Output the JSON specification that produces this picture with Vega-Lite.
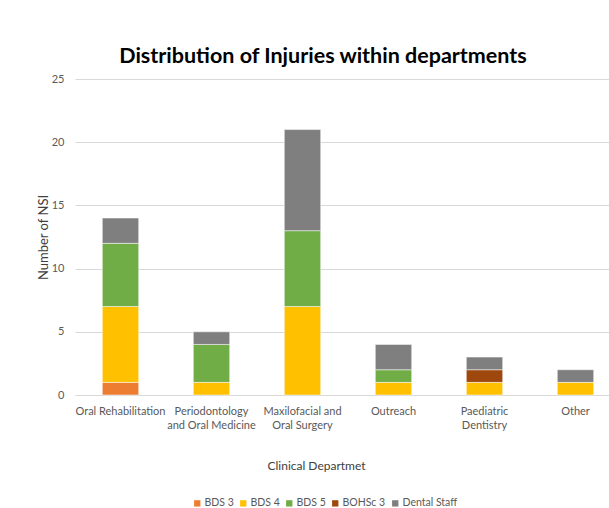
{
  "$schema": "https://vega.github.io/schema/vega-lite/v6.json",
  "autosize": "none",
  "padding": {"left": 75, "top": 79, "right": 0, "bottom": 113},
  "width": 546,
  "height": 316,
  "background": "white",
  "title": {
    "text": "Distribution of Injuries within departments",
    "font": "Lato",
    "fontSize": 21.5,
    "fontWeight": "bold",
    "color": "#000000",
    "anchor": "middle",
    "dx": -25,
    "offset": 6
  },
  "data": {
    "values": [
      {"dept": "Oral Rehabilitation", "group": "BDS 3", "count": 1},
      {"dept": "Oral Rehabilitation", "group": "BDS 4", "count": 6},
      {"dept": "Oral Rehabilitation", "group": "BDS 5", "count": 5},
      {"dept": "Oral Rehabilitation", "group": "Dental Staff", "count": 2},
      {"dept": "Periodontology and Oral Medicine", "group": "BDS 4", "count": 1},
      {"dept": "Periodontology and Oral Medicine", "group": "BDS 5", "count": 3},
      {"dept": "Periodontology and Oral Medicine", "group": "Dental Staff", "count": 1},
      {"dept": "Maxilofacial and Oral Surgery", "group": "BDS 4", "count": 7},
      {"dept": "Maxilofacial and Oral Surgery", "group": "BDS 5", "count": 6},
      {"dept": "Maxilofacial and Oral Surgery", "group": "Dental Staff", "count": 8},
      {"dept": "Outreach", "group": "BDS 4", "count": 1},
      {"dept": "Outreach", "group": "BDS 5", "count": 1},
      {"dept": "Outreach", "group": "Dental Staff", "count": 2},
      {"dept": "Paediatric Dentistry", "group": "BDS 4", "count": 1},
      {"dept": "Paediatric Dentistry", "group": "BOHSc 3", "count": 1},
      {"dept": "Paediatric Dentistry", "group": "Dental Staff", "count": 1},
      {"dept": "Other", "group": "BDS 4", "count": 1},
      {"dept": "Other", "group": "Dental Staff", "count": 1}
    ]
  },
  "mark": {"type": "bar", "stroke": "#ffffff", "strokeWidth": 0.5},
  "encoding": {
    "x": {
      "field": "dept",
      "type": "nominal",
      "sort": null,
      "scale": {"paddingInner": 0.6, "paddingOuter": 0.3},
      "axis": {
        "title": "Clinical Departmet",
        "titleFont": "Lato",
        "titleFontSize": 12,
        "titleFontWeight": "normal",
        "titleColor": "#404040",
        "titleX": 241,
        "titleY": 70,
        "titleBaseline": "middle",
        "titleAlign": "center",
        "labelAngle": 0,
        "labelFont": "Lato",
        "labelFontSize": 11,
        "labelColor": "#595959",
        "labelPadding": 10,
        "labelLineHeight": 14,
        "labelExpr": "datum.label == 'Periodontology and Oral Medicine' ? ['Periodontology', 'and Oral Medicine'] : datum.label == 'Maxilofacial and Oral Surgery' ? ['Maxilofacial and', 'Oral Surgery'] : datum.label == 'Paediatric Dentistry' ? ['Paediatric', 'Dentistry'] : datum.label",
        "ticks": false,
        "domain": true,
        "domainColor": "#d9d9d9",
        "domainWidth": 1
      }
    },
    "y": {
      "field": "count",
      "type": "quantitative",
      "stack": "zero",
      "scale": {"domain": [0, 25], "nice": false},
      "axis": {
        "title": "Number of NSI",
        "titleFont": "Lato",
        "titleFontSize": 13,
        "titleFontWeight": "normal",
        "titleColor": "#404040",
        "titleX": -32,
        "titleY": 158,
        "titleAngle": -90,
        "titleAlign": "center",
        "titleBaseline": "middle",
        "values": [0, 5, 10, 15, 20, 25],
        "labelFont": "Lato",
        "labelFontSize": 11,
        "labelColor": "#595959",
        "labelPadding": 11,
        "ticks": false,
        "domain": false,
        "grid": true,
        "gridColor": "#d9d9d9",
        "gridWidth": 1
      }
    },
    "color": {
      "field": "group",
      "type": "nominal",
      "scale": {
        "domain": ["BDS 3", "BDS 4", "BDS 5", "BOHSc 3", "Dental Staff"],
        "range": ["#ED7D31", "#FFC000", "#70AD47", "#9E480E", "#7F7F7F"]
      },
      "legend": {
        "title": null,
        "orient": "none",
        "direction": "horizontal",
        "legendX": 117,
        "legendY": 419,
        "symbolType": "square",
        "symbolSize": 40,
        "symbolStrokeWidth": 0,
        "labelFont": "Lato",
        "labelFontSize": 10.5,
        "labelColor": "#595959",
        "labelOffset": 2,
        "columnPadding": 4,
        "padding": 0
      }
    },
    "order": {"field": "group", "type": "nominal", "sort": "ascending"}
  },
  "config": {
    "view": {"stroke": null}
  }
}
